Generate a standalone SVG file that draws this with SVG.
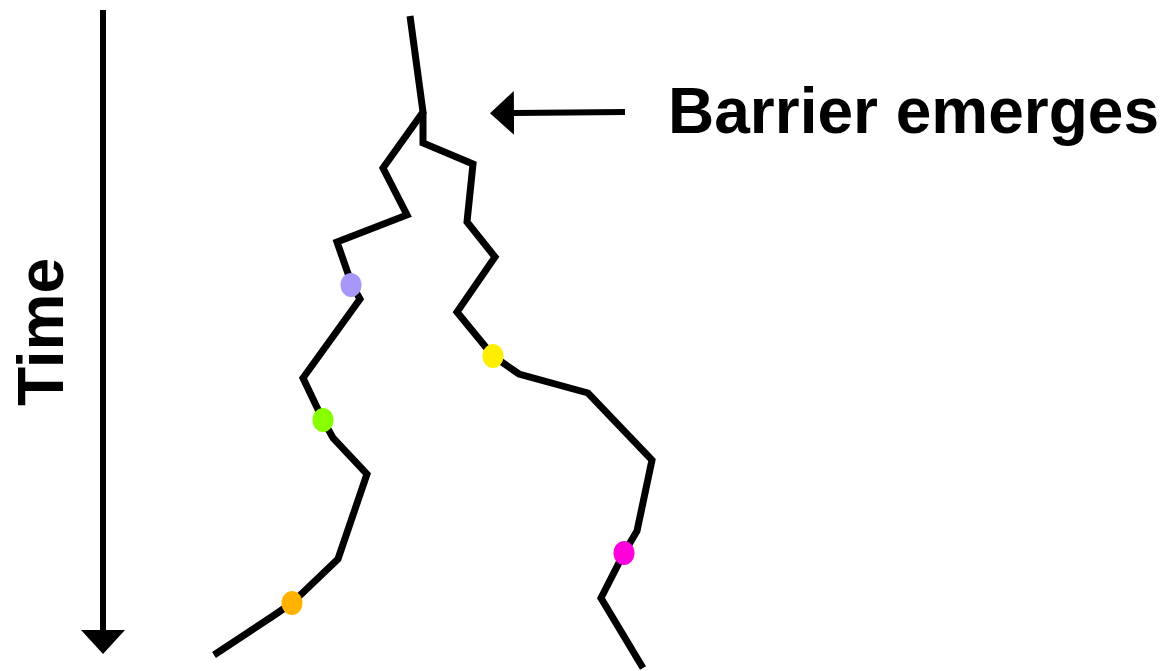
<svg xmlns="http://www.w3.org/2000/svg" width="1162" height="671" viewBox="0 0 1162 671">
<style>
.lbl{font-family:"Liberation Sans",Arial,sans-serif;font-weight:bold;font-size:64px;fill:#000}
.br{fill:none;stroke:#000;stroke-width:7;stroke-linejoin:miter;stroke-linecap:butt}
.ar{fill:none;stroke:#000;stroke-width:6}
</style>
<defs>
<marker id="ah" markerWidth="24" markerHeight="44" refX="0" refY="22" orient="auto" markerUnits="userSpaceOnUse">
<path d="M0,0 L24,22 L0,44 Z" fill="#000"/>
</marker>
</defs>
<rect width="1162" height="671" fill="#fff"/>
<g id="connectors">
<line class="ar" x1="103" y1="10" x2="103" y2="630" marker-end="url(#ah)"/>
<line class="ar" x1="625" y1="112" x2="514" y2="113" marker-end="url(#ah)"/>
<polyline class="br" points="410,16 423,112 383,168 407,215 337,242 352,285 360,299 303,378 323,420 333,438 367,474 338,559 292,603 273,616 214,655"/>
<polyline class="br" points="423,112 423,143 473,164 467,222 495,257 457,312 493,356 519,374 588,393 652,460 637,531 624,553 601,598 643,668"/>
</g>
<g id="dots">
<ellipse cx="351" cy="285" rx="10.5" ry="12" fill="#A896F8"/>
<ellipse cx="323" cy="420" rx="10.5" ry="12" fill="#88FF00"/>
<ellipse cx="292" cy="603" rx="10.5" ry="12" fill="#FFB300"/>
<ellipse cx="493" cy="356" rx="10.5" ry="12" fill="#FFEE00"/>
<ellipse cx="624" cy="553" rx="10.5" ry="12" fill="#FF00DD"/>
</g>
<g id="label-time">
<text class="lbl" transform="translate(63,332) rotate(-90)" text-anchor="middle">Time</text>
</g>
<g id="label-barrier">
<text class="lbl" x="668" y="133">Barrier emerges</text>
</g>
</svg>
